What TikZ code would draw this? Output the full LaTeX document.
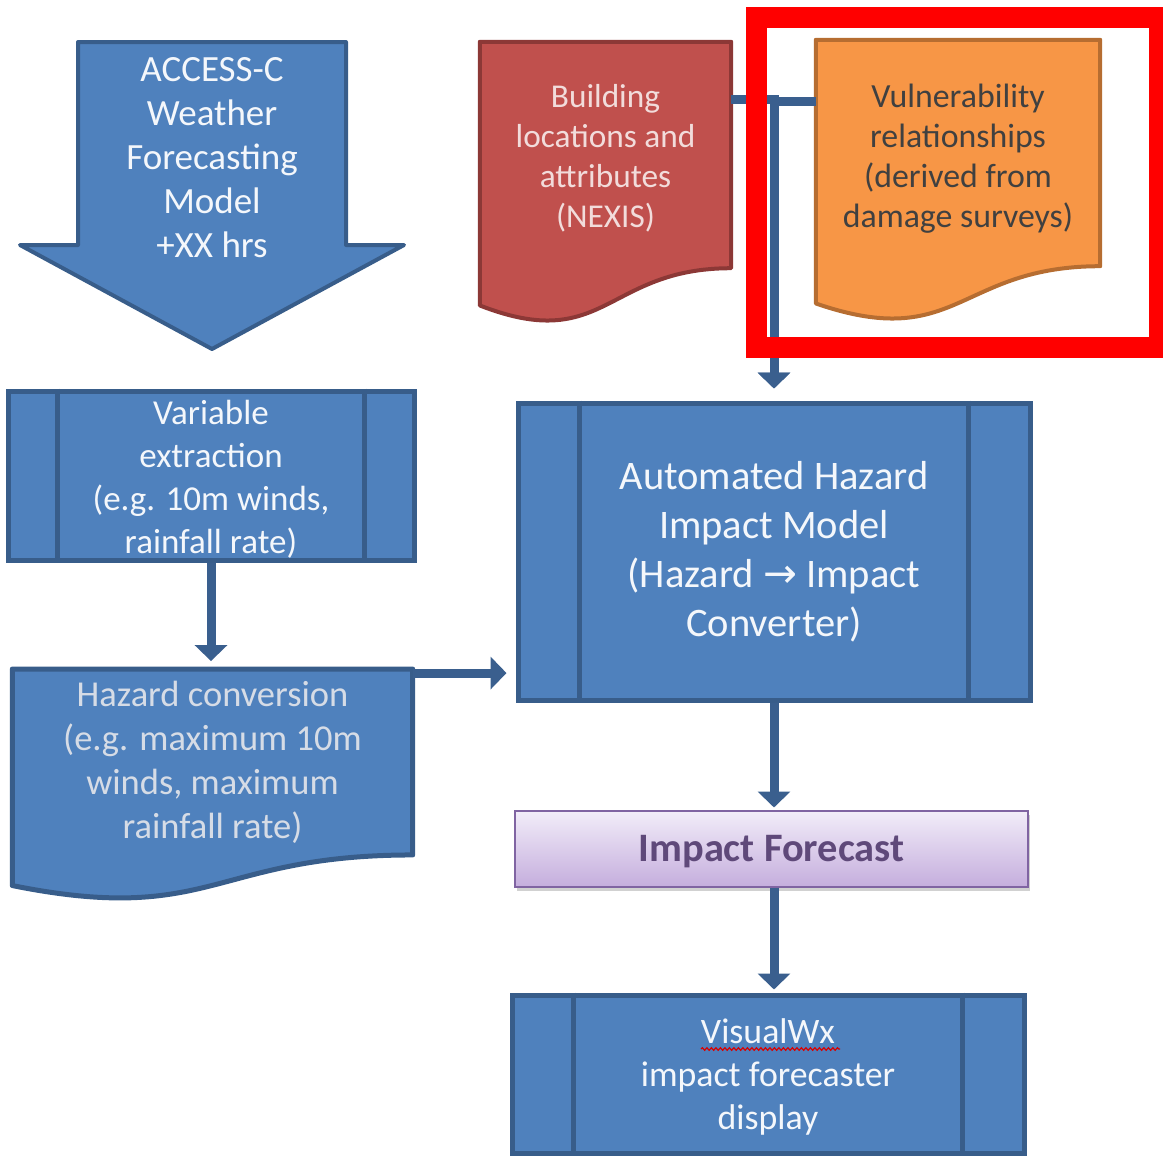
\documentclass[tikz,border=0pt]{standalone}
\usepackage{fontspec}
\setmainfont{Carlito}
\newfontfamily\arrowfont{DejaVu Sans}
\usetikzlibrary{arrows.meta,positioning,calc,backgrounds,shadows,decorations.pathmorphing}

\definecolor{procblue}{HTML}{4F81BD}
\definecolor{procedge}{HTML}{385D8A}
\definecolor{linkblue}{HTML}{3A5F8E}
\definecolor{proctext}{HTML}{F4F7FB}
\definecolor{haztext}{HTML}{D6DCE6}
\definecolor{nexisred}{HTML}{C0504D}
\definecolor{nexisedge}{HTML}{8C3836}
\definecolor{nexistext}{HTML}{F2DCDB}
\definecolor{vulnorange}{HTML}{F79646}
\definecolor{vulnedge}{HTML}{B66D31}
\definecolor{vulntext}{HTML}{404040}
\definecolor{fcastedge}{HTML}{8064A2}
\definecolor{fcasttext}{HTML}{5F497A}
\definecolor{fcasttop}{HTML}{F2EDF9}
\definecolor{fcastbot}{HTML}{C5AEDD}

\tikzset{
  proc/.style={draw=procedge, fill=procblue, line width=5pt, align=center,
    text=proctext, inner sep=0pt},
  procbar/.style={draw=procedge, line width=5pt},
  doc/.style={inner sep=0pt, align=center},
  conn/.style={draw=linkblue, line width=9pt, -{Triangle[length=16pt,width=32pt]}},
}

% document outline with a wavy foot, hung below the node box
\newcommand{\docshape}[2]{%
  \path[#2] (#1.north west) -- (#1.north east) -- (#1.south east)
    .. controls (#1.south) and ($(#1.north)!1.381!(#1.south)$)
    .. ($(#1.north west)!1.1646!(#1.south west)$) -- cycle;}
% the two inner bars of a predefined process box
\newcommand{\procbars}[2]{%
  \draw[procbar] ([xshift=#2]#1.north west) -- ([xshift=#2]#1.south west);
  \draw[procbar] ([xshift=-#2]#1.north east) -- ([xshift=-#2]#1.south east);}

\begin{document}
\begin{tikzpicture}[x=1pt, y=-1pt]
    \useasboundingbox (0,0) rectangle (1163,1157);

    % Forecast model (block arrow)
    \draw[draw=procedge, fill=procblue, line width=4pt, line join=round]
        (78,42) -- (346,42) -- (346,245) -- (404,245) -- (212,349)
        -- (20,245) -- (78,245) -- cycle;
    \node[align=center, text=proctext, font=\fontsize{37}{44}\selectfont] (access) at (212,158)
        {ACCESS-C\\Weather\\Forecasting\\Model\\+XX hrs};

    % Left column
    \node[proc, minimum width=406pt, minimum height=169pt, font=\fontsize{35}{43}\selectfont]
        (varx) at (211,475.5) {\rule{0pt}{32pt}Variable\\extraction\\(e.g. 10m winds,\\rainfall rate)};
    \procbars{varx}{52pt}

    \node[doc, minimum width=400pt, minimum height=185.5pt, text=haztext,
        font=\fontsize{36.5}{44}\selectfont] (haz) at (212.5,762)
        {Hazard conversion\\(e.g. maximum 10m\\winds, maximum\\rainfall rate)};

    % Data inputs
    \node[doc, minimum width=251pt, minimum height=226pt, text=nexistext,
        font=\fontsize{33.3}{40}\selectfont] (nexis) at (605.5,155)
        {\rule{0pt}{30pt}Building\\locations and\\attributes\\(NEXIS)};
    \node[doc, minimum width=284pt, minimum height=226pt, text=vulntext,
        font=\fontsize{33.8}{40}\selectfont] (vuln) at (958,153)
        {\rule{0pt}{35pt}Vulnerability\\relationships\\(derived from\\damage surveys)};

    \begin{scope}[on background layer]
        \docshape{haz}{draw=procedge, fill=procblue, line width=5pt, line join=round}
        \docshape{nexis}{draw=nexisedge, fill=nexisred, line width=4pt, line join=round}
        \docshape{vuln}{draw=vulnedge, fill=vulnorange, line width=4pt, line join=round}
    \end{scope}

    % Right column
    \node[proc, minimum width=512pt, minimum height=297pt, font=\fontsize{40.5}{49}\selectfont]
        (ahim) at (774,551.5) {Automated Hazard\\Impact Model\\(Hazard {\arrowfont →} Impact\\Converter)};
    \procbars{ahim}{64pt}

    \node[draw=fcastedge, line width=2pt, top color=fcasttop, bottom color=fcastbot,
        minimum width=513pt, minimum height=76pt, text=fcasttext, text depth=0pt,
        font=\bfseries\fontsize{40.4}{48}\selectfont,
        drop shadow={opacity=0.3, shadow xshift=2pt, shadow yshift=-4pt, fill=black!60}]
        (fcast) at (771.5,848.5) {Impact Forecast};

    \node[proc, minimum width=512pt, minimum height=158pt, font=\fontsize{35.8}{43}\selectfont]
        (vwx) at (768,1074) {\rule{0pt}{31pt}VisualWx\\impact forecaster\\display};
    \procbars{vwx}{64pt}
    \draw[red!85!black, line width=1.2pt, decorate,
        decoration={snake, amplitude=1.3pt, segment length=4.5pt}] (701,1049) -- (840,1049);

    % Connectors
    \draw[conn, shorten >=8pt] (varx.south) -- (varx.south |- haz.north);
    \coordinate (hazout) at ([yshift=-4pt]haz.north east);
    \draw[conn, shorten >=9pt] (hazout) -- (hazout -| ahim.west);
    \coordinate (nexisout) at ([yshift=-58pt]nexis.north east);
    \coordinate (vulnin) at ([yshift=-62pt]vuln.north west);
    \draw[conn, shorten >=12pt] (nexisout) -| (ahim.north);
    \draw[conn, shorten >=12pt] (vulnin) -| (ahim.north);
    \draw[conn, shorten >=2pt] (ahim.south) -- (ahim.south |- fcast.north);
    \draw[conn, shorten >=3pt] (ahim.south |- fcast.south) -- (ahim.south |- vwx.north);

    % Highlight frame
    \draw[red, line width=21pt] (756,17) rectangle (1159,347);
\end{tikzpicture}
\end{document}
